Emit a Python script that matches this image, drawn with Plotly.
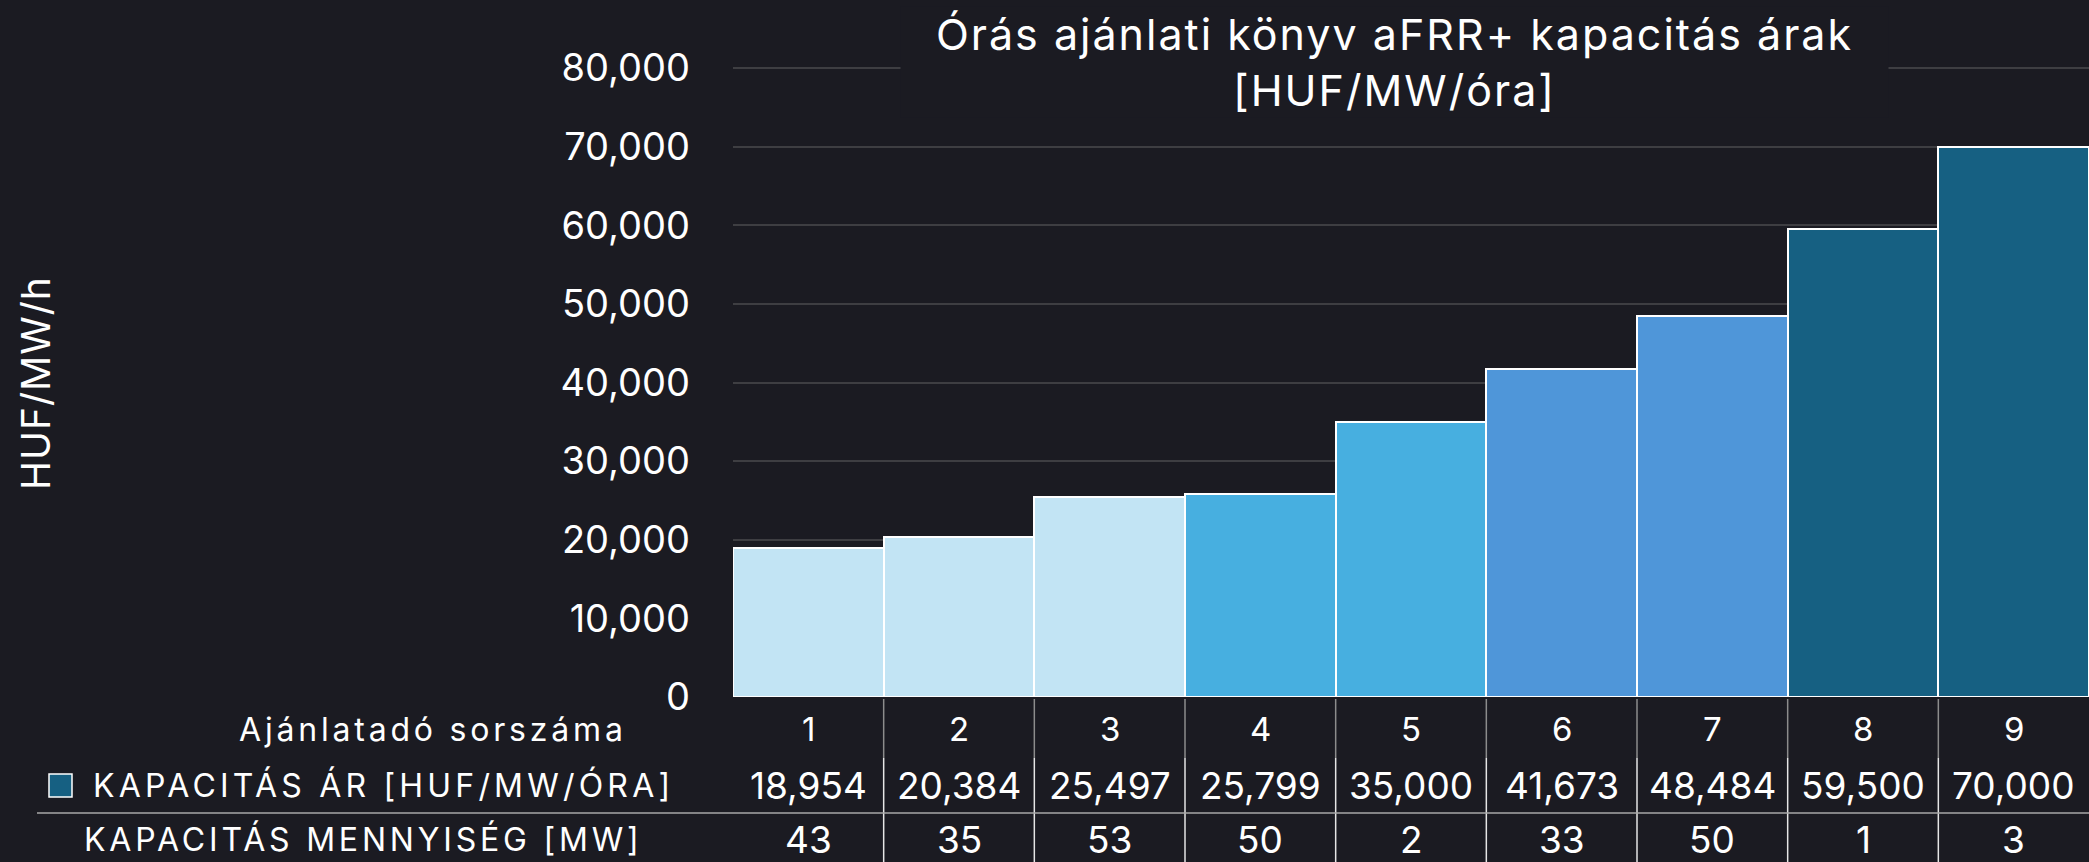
import plotly.graph_objects as go

# ---- data ----
offer_ids = ["1", "2", "3", "4", "5", "6", "7", "8", "9"]
prices = [18954, 20384, 25497, 25799, 35000, 41673, 48484, 59500, 70000]
quantities = [43, 35, 53, 50, 2, 33, 50, 1, 3]
bar_colors = ["#C2E4F4", "#C2E4F4", "#C2E4F4", "#47AFE0", "#47AFE0",
              "#4F96D9", "#4F96D9", "#166082", "#166082"]
y_ticks = [0, 10000, 20000, 30000, 40000, 50000, 60000, 70000, 80000]

title_lines = ["Órás ajánlati könyv aFRR+ kapacitás árak", "[HUF/MW/óra]"]
y_title = "HUF/MW/h"
row_header = "Ajánlatadó sorszáma"
row_price = "KAPACITÁS ÁR [HUF/MW/ÓRA]"
row_qty = "KAPACITÁS MENNYISÉG [MW]"

# ---- layout geometry (pixels) ----
W, H = 2089, 862
L, R, T, B = 733, 0, 64, 165
PW, PH = W - L - R, H - T - B
Y_TOP_PX = 68           # pixel row where 80,000 sits
y_max = 80000 * (H - B - T) / (H - B - Y_TOP_PX)
BG = "#1B1B22"
FONT = "Inter"


def px_x(px):
    return (px - L) / PW


def px_y(py):
    return (H - B - py) / PH


def spaced(text, sp):
    return f'<span style="letter-spacing:{sp}px">{text}</span>'


xs = list(range(len(offer_ids)))

fig = go.Figure(
    go.Bar(
        x=xs,
        y=prices,
        width=1,
        marker=dict(color=bar_colors, line=dict(color="#FFFFFF", width=2)),
        showlegend=False,
        hoverinfo="skip",
    )
)

annotations = []
shapes = []

# title with background box that interrupts the top gridline
annotations.append(dict(
    text="<br>".join(spaced(t, 2) for t in title_lines),
    xref="paper", yref="paper",
    x=px_x(1394), y=px_y(6), xanchor="center", yanchor="top",
    showarrow=False, align="center", width=985, bgcolor=BG,
    font=dict(family=FONT, size=43, color="#FFFFFF"),
))

# y-axis title
annotations.append(dict(
    text=spaced(y_title, 1), xref="paper", yref="paper",
    x=px_x(35), y=px_y(383), xanchor="center", yanchor="middle",
    textangle=-90, showarrow=False,
    font=dict(family=FONT, size=39, color="#FFFFFF"),
))

label_font = dict(family=FONT, size=32, color="#FFFFFF")
hdr_font = dict(family=FONT, size=33, color="#FFFFFF")
val_font = dict(family=FONT, size=37, color="#FFFFFF")

y_hdr, y_price, y_qty = px_y(729), px_y(785), px_y(839)

# row labels
annotations.append(dict(text=spaced(row_header, 3.8), xref="paper", yref="paper",
                        x=px_x(237), y=y_hdr, xanchor="left", yanchor="middle",
                        showarrow=False, font=label_font))
annotations.append(dict(text=spaced(row_price, 4.2), xref="paper", yref="paper",
                        x=px_x(91), y=y_price, xanchor="left", yanchor="middle",
                        showarrow=False, font=label_font))
annotations.append(dict(text=spaced(row_qty, 3.8), xref="paper", yref="paper",
                        x=px_x(82), y=y_qty, xanchor="left", yanchor="middle",
                        showarrow=False, font=label_font))

# cell values
for i, (oid, p, q) in enumerate(zip(offer_ids, prices, quantities)):
    annotations.append(dict(text=oid, xref="x", yref="paper", x=i, y=y_hdr,
                            xanchor="center", yanchor="middle", showarrow=False, font=hdr_font))
    annotations.append(dict(text=f"{p:,}", xref="x", yref="paper", x=i, y=y_price,
                            xanchor="center", yanchor="middle", showarrow=False, font=val_font))
    annotations.append(dict(text=f"{q}", xref="x", yref="paper", x=i, y=y_qty,
                            xanchor="center", yanchor="middle", showarrow=False, font=val_font))

# vertical separators between columns (grey in header row, light below)
for i in range(len(offer_ids) - 1):
    shapes.append(dict(type="line", xref="x", yref="paper",
                       x0=i + 0.5, x1=i + 0.5, y0=px_y(699), y1=px_y(758),
                       line=dict(color="#8C8C8C", width=1.5)))
    shapes.append(dict(type="line", xref="x", yref="paper",
                       x0=i + 0.5, x1=i + 0.5, y0=px_y(758), y1=px_y(866),
                       line=dict(color="#E6E6E6", width=1.5)))

# horizontal separator between price and quantity rows
shapes.append(dict(type="line", xref="paper", yref="paper",
                   x0=px_x(37), x1=1.0, y0=px_y(813), y1=px_y(813),
                   line=dict(color="#A8A8A8", width=1.5)))

# legend marker square
shapes.append(dict(type="rect", xref="paper", yref="paper",
                   x0=px_x(49), x1=px_x(72), y0=px_y(797), y1=px_y(774),
                   fillcolor="#166082", line=dict(color="#FFFFFF", width=1.5)))

fig.update_layout(
    width=W, height=H,
    margin=dict(l=L, r=R, t=T, b=B, pad=0),
    paper_bgcolor=BG, plot_bgcolor=BG,
    bargap=0,
    font=dict(family=FONT, color="#FFFFFF"),
    annotations=annotations,
    shapes=shapes,
    xaxis=dict(range=[-0.5, len(offer_ids) - 0.5], showticklabels=False,
               showgrid=False, zeroline=False, showline=False, fixedrange=True),
    yaxis=dict(range=[0, y_max], tickvals=y_ticks, tickformat=",d",
               showgrid=True, gridcolor="#3E3E42", gridwidth=2,
               zeroline=False, showline=False, ticks="",
               ticklabelstandoff=42,
               tickfont=dict(family=FONT, size=38, color="#FFFFFF")),
)

fig.write_html(
    "out.html",
    config={"displayModeBar": False},
    post_script="document.body.style.margin='0';document.body.style.padding='0';"
                "document.body.style.overflow='hidden';document.body.style.background='#1B1B22';",
)
